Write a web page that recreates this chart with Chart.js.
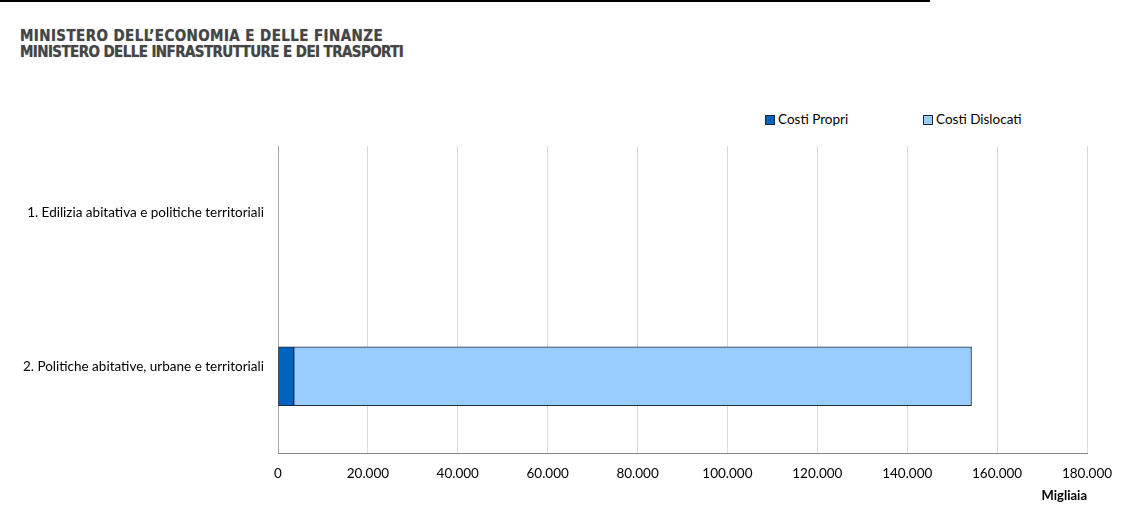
<!DOCTYPE html>
<html>
<head>
<meta charset="utf-8">
<script src="https://cdn.jsdelivr.net/npm/chart.js@4"></script>
<style>
  html, body { margin: 0; padding: 0; background: #fff; }
  body { width: 1147px; height: 521px; position: relative; overflow: hidden; }
  #topline { position: absolute; left: 0; top: 0; width: 930px; height: 2px; background: #000; }
  .head { position: absolute; left: 20px; font-family: "Liberation Sans Narrow", "DejaVu Sans Condensed", sans-serif;
          font-weight: bold; font-size: 15px; color: #454545; text-shadow: 0 0 1px #999; white-space: nowrap; }
  #legend { position: absolute; top: 110px; left: 0; font-family: Lato, sans-serif; font-size: 13.5px; color: #000; }
  .leg { position: absolute; white-space: nowrap; line-height: 18px; }
  .leg i { display: inline-block; width: 8px; height: 8px; border: 1px solid #1f2a36; margin-right: 3px; vertical-align: -1px; }
  #wrap { position: absolute; left: 0; top: 0; width: 1147px; height: 521px; }
</style>
</head>
<body>
<div id="topline"></div>
<div class="head" style="top:27px; letter-spacing:0.4px">MINISTERO DELL’ECONOMIA E DELLE FINANZE</div>
<div class="head" style="top:43px; letter-spacing:-0.6px">MINISTERO DELLE INFRASTRUTTURE E DEI TRASPORTI</div>
<div id="legend"></div>
<div id="wrap"><canvas id="myChart" width="1147" height="521"></canvas></div>
<script>
const categories = ["1. Edilizia abitativa e politiche territoriali", "2. Politiche abitative, urbane e territoriali"];
const seriesNames = ["Costi Propri", "Costi Dislocati"];
const costiPropri = [null, 3500];
const costiDislocati = [null, 150800];
const seriesColors = ["#0063be", "#99ccff"];
const legendX = [765, 923];

function fmt(v){
    return String(v).replace(/\B(?=(\d{3})+(?!\d))/g, ".");
}

// html legend, same look as the excel one
const leg = document.getElementById("legend");
seriesNames.forEach(function(name, i){
    const d = document.createElement("div");
    d.className = "leg";
    d.style.left = legendX[i] + "px";
    d.innerHTML = '<i style="background:' + seriesColors[i] + '"></i>' + name;
    leg.appendChild(d);
});

Chart.defaults.font.family = "Lato, sans-serif";
Chart.defaults.font.size = 13.5;
Chart.defaults.color = "#000";

new Chart("myChart", {
    type: "bar",
    data: {
        labels: categories,
        datasets: [{
            label: seriesNames[0],
            data: costiPropri,
            backgroundColor: seriesColors[0],
            borderColor: "#1f2a36",
            borderWidth: 1,
            borderSkipped: false
        },{
            label: seriesNames[1],
            data: costiDislocati,
            backgroundColor: seriesColors[1],
            borderColor: "#1f2a36",
            borderWidth: 1,
            borderSkipped: false
        }]
    },
    options: {
        indexAxis: "y",
        responsive: false,
        animation: false,
        layout: {padding: {top: 146, right: 60, bottom: 0, left: 0}},
        plugins: {
            legend: {display: false},
            tooltip: {enabled: false}
        },
        datasets: {bar: {barThickness: 59}},
        scales: {
            x: {
                stacked: true,
                min: 0,
                max: 180000,
                ticks: {stepSize: 20000, padding: 13, callback: function(v){ return fmt(v); }},
                grid: {color: "#d9d9d9", drawTicks: false},
                border: {color: "#898989", width: 1},
                title: {display: true, text: "Migliaia", align: "end", font: {weight: "bold", size: 13}, padding: {top: 0, bottom: 17}},
                afterFit: function(s){ s.height = 68; }
            },
            y: {
                stacked: true,
                ticks: {padding: 14, labelOffset: -10},
                grid: {display: false, drawTicks: false},
                border: {color: "#a6a6a6", width: 1},
                afterFit: function(s){ s.width = 278; }
            }
        }
    }
});
</script>
</body>
</html>
